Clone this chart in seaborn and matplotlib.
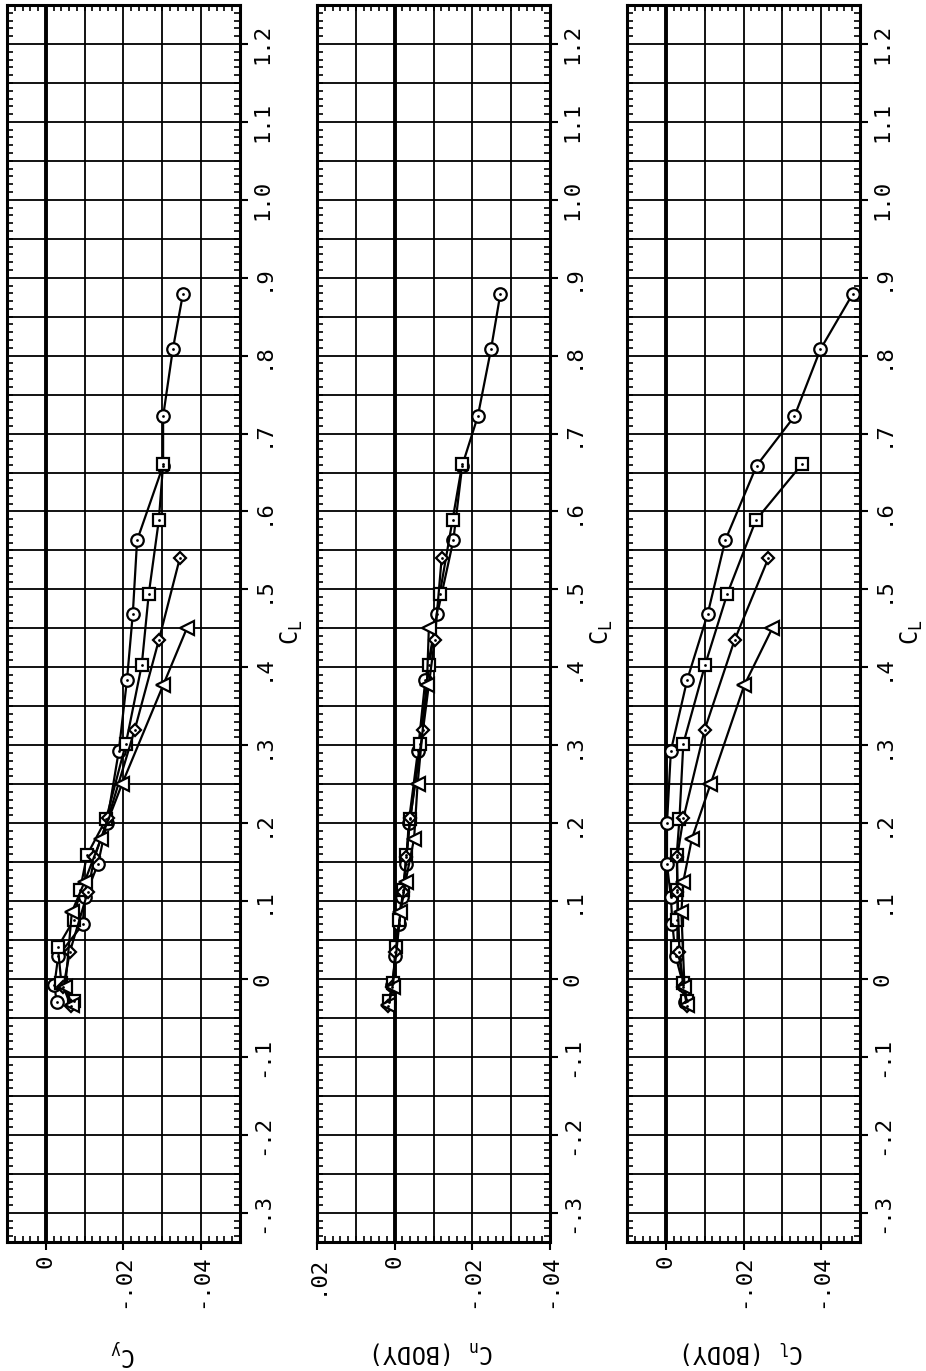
import numpy as np
import pandas as pd
import matplotlib
matplotlib.use("Agg")
import matplotlib.pyplot as plt
import seaborn as sns
from matplotlib.ticker import MultipleLocator

# ---------------- data ----------------
SERIES = ["O", "S", "D", "T"]

CL_O = [-0.030, -0.008, 0.030, 0.070, 0.105, 0.147, 0.200, 0.293, 0.384, 0.469, 0.563, 0.659, 0.722, 0.808, 0.879]
CY_O = [-0.0028, -0.0022, -0.0032, -0.0095, -0.0100, -0.0134, -0.0157, -0.0188, -0.0209, -0.0224, -0.0235, -0.0302, -0.0302, -0.0327, -0.0353]
CN_O = [0.0015, 0.0006, -0.0002, -0.0010, -0.0018, -0.0030, -0.0036, -0.0060, -0.0079, -0.0110, -0.0151, -0.0174, -0.0214, -0.0248, -0.0272]
CLB_O = [-0.0050, -0.0045, -0.0025, -0.0017, -0.0013, -0.0003, -0.0003, -0.0013, -0.0055, -0.0108, -0.0153, -0.0234, -0.0331, -0.0398, -0.0481]

CL_S = [-0.028, -0.005, 0.041, 0.076, 0.114, 0.159, 0.205, 0.302, 0.403, 0.494, 0.589, 0.661]
CY_S = [-0.0072, -0.0040, -0.0031, -0.0072, -0.0088, -0.0106, -0.0155, -0.0206, -0.0247, -0.0265, -0.0291, -0.0302]
CN_S = [0.0015, 0.0004, -0.0003, -0.0012, -0.0022, -0.0030, -0.0040, -0.0065, -0.0089, -0.0116, -0.0149, -0.0174]
CLB_S = [-0.0055, -0.0045, -0.0030, -0.0030, -0.0030, -0.0028, -0.0035, -0.0045, -0.0101, -0.0158, -0.0232, -0.0351]

CL_D = [-0.035, -0.010, 0.035, 0.112, 0.156, 0.206, 0.320, 0.435, 0.540]
CY_D = [-0.0065, -0.0045, -0.0062, -0.0108, -0.0125, -0.0160, -0.0229, -0.0291, -0.0345]
CN_D = [0.0017, 0.0006, -0.0002, -0.0022, -0.0030, -0.0040, -0.0073, -0.0103, -0.0121]
CLB_D = [-0.0055, -0.0045, -0.0035, -0.0030, -0.0029, -0.0045, -0.0100, -0.0177, -0.0264]

CL_T = [-0.033, -0.010, 0.086, 0.125, 0.180, 0.250, 0.377, 0.450]
CY_T = [-0.0067, -0.0050, -0.0067, -0.0100, -0.0142, -0.0196, -0.0302, -0.0363]
CN_T = [0.0016, 0.0005, -0.0015, -0.0028, -0.0050, -0.0059, -0.0083, -0.0088]
CLB_T = [-0.0055, -0.0048, -0.0040, -0.0045, -0.0067, -0.0115, -0.0202, -0.0274]

CL_TICKS = [-0.3, -0.2, -0.1, 0.0, 0.1, 0.2, 0.3, 0.4, 0.5, 0.6, 0.7, 0.8, 0.9, 1.0, 1.1, 1.2]
CL_TICK_LABELS = ["-.3", "-.2", "-.1", "0", ".1", ".2", ".3", ".4", ".5", ".6", ".7", ".8", ".9", "1.0", "1.1", "1.2"]

CY_TICKS = [0.0, -0.02, -0.04]
CY_TICK_LABELS = ["0", "-.02", "-.04"]
CN_TICKS = [0.02, 0.0, -0.02, -0.04]
CN_TICK_LABELS = [".02", "0", "-.02", "-.04"]
CLB_TICKS = [0.0, -0.02, -0.04]
CLB_TICK_LABELS = ["0", "-.02", "-.04"]

PANEL_LABELS = ["C$_\\mathrm{y}$", "C$_\\mathrm{n}$ (BODY)", "C$_\\mathrm{l}$ (BODY)"]

# ---------------- build table ----------------
frames = []
for s, cl, cy, cn, clb in [("O", CL_O, CY_O, CN_O, CLB_O),
                            ("S", CL_S, CY_S, CN_S, CLB_S),
                            ("D", CL_D, CY_D, CN_D, CLB_D),
                            ("T", CL_T, CY_T, CN_T, CLB_T)]:
    frames.append(pd.DataFrame({"series": s, "CL": cl, "Cy": cy, "Cn": cn, "Clb": clb}))
df = pd.concat(frames, ignore_index=True)

# ---------------- style ----------------
sns.set_theme(style="white")
plt.rcParams["font.family"] = ["DejaVu Sans Mono", "DejaVu Sans"]
plt.rcParams["mathtext.fontset"] = "custom"
plt.rcParams["mathtext.rm"] = "DejaVu Sans Mono"
plt.rcParams["mathtext.it"] = "DejaVu Sans Mono"
plt.rcParams["mathtext.bf"] = "DejaVu Sans Mono:bold"
plt.rcParams["axes.edgecolor"] = "black"
plt.rcParams["text.color"] = "black"
plt.rcParams["xtick.color"] = "black"
plt.rcParams["ytick.color"] = "black"

W, H = 926, 1371
fig = plt.figure(figsize=(W / 100, H / 100), dpi=100)
fig.patch.set_facecolor("white")

MARKERS = {"O": "o", "S": "s", "D": "D", "T": "<"}
MSIZE = {"O": 9.0, "S": 8.3, "D": 5.8, "T": 9.5}

panels = [
    dict(col="Cy", xlim=(0.01, -0.05), ticks=CY_TICKS, labels=CY_TICK_LABELS, left=7),
    dict(col="Cn", xlim=(0.02, -0.04), ticks=CN_TICKS, labels=CN_TICK_LABELS, left=317),
    dict(col="Clb", xlim=(0.01, -0.05), ticks=CLB_TICKS, labels=CLB_TICK_LABELS, left=627),
]

AX_TOP, AX_BOT, AX_W = 5, 1242, 233
YLIM = (-0.3375, 1.25)

for p, plabel in zip(panels, PANEL_LABELS):
    ax = fig.add_axes([p["left"] / W, 1 - AX_BOT / H, AX_W / W, (AX_BOT - AX_TOP) / H])
    ax.set_facecolor("white")
    ax.set_xlim(*p["xlim"])
    ax.set_ylim(*YLIM)

    # grid
    lo, hi = min(p["xlim"]), max(p["xlim"])
    for gx in np.round(np.arange(-0.05, 0.0201, 0.01), 3):
        if lo < gx < hi:
            ax.axvline(gx, color="black", lw=2.8 if abs(gx) < 1e-9 else 1.3, zorder=1)
    for gy in np.round(np.arange(-0.30, 1.2001, 0.05), 3):
        ax.axhline(gy, color="black", lw=1.3, zorder=1)

    # data
    for s in SERIES:
        sub = df[df["series"] == s]
        sns.lineplot(data=sub, x=p["col"], y="CL", sort=False, estimator=None,
                     color="black", lw=1.6, marker=MARKERS[s], markersize=MSIZE[s],
                     markerfacecolor="white", markeredgecolor="black",
                     markeredgewidth=1.6, legend=False, ax=ax, zorder=3)
    dots = df[df["series"] != "T"]
    sns.scatterplot(data=dots, x=p["col"], y="CL", s=4, color="black",
                    linewidth=0, legend=False, ax=ax, zorder=4)

    ax.set_xlabel("")
    ax.set_ylabel("")

    # ticks
    ax.set_xticks(p["ticks"], labels=p["labels"], rotation=90)
    ax.xaxis.set_minor_locator(MultipleLocator(0.002))
    ax.yaxis.tick_right()
    ax.set_yticks(CL_TICKS, labels=CL_TICK_LABELS, rotation=90, va="center")
    ax.yaxis.set_minor_locator(MultipleLocator(0.01))
    ax.tick_params(axis="x", which="major", direction="out", length=6, width=1.5,
                   bottom=True, top=False, labelbottom=True, labelsize=16, pad=3)
    ax.tick_params(axis="x", which="minor", direction="in", length=4, width=1.2,
                   bottom=True, top=True)
    ax.tick_params(axis="y", which="major", direction="out", length=6, width=1.5,
                   right=True, left=False, labelright=True, labelleft=False,
                   labelsize=16, pad=3)
    ax.tick_params(axis="y", which="minor", direction="in", length=4, width=1.2,
                   left=True, right=True)
    for sp in ax.spines.values():
        sp.set_linewidth(2.2)
        sp.set_color("black")
        sp.set_zorder(5)

    # axis titles
    ax.text(1 + 52 / AX_W, (AX_BOT - 632) / (AX_BOT - AX_TOP), "C$_\\mathrm{L}$",
            transform=ax.transAxes, rotation=90, ha="center", va="center", fontsize=17)
    ax.text(0.5, -(1352 - AX_BOT) / (AX_BOT - AX_TOP), plabel,
            transform=ax.transAxes, rotation=180, ha="center", va="center", fontsize=17)

fig.savefig("out.png", dpi=100, facecolor="white")
